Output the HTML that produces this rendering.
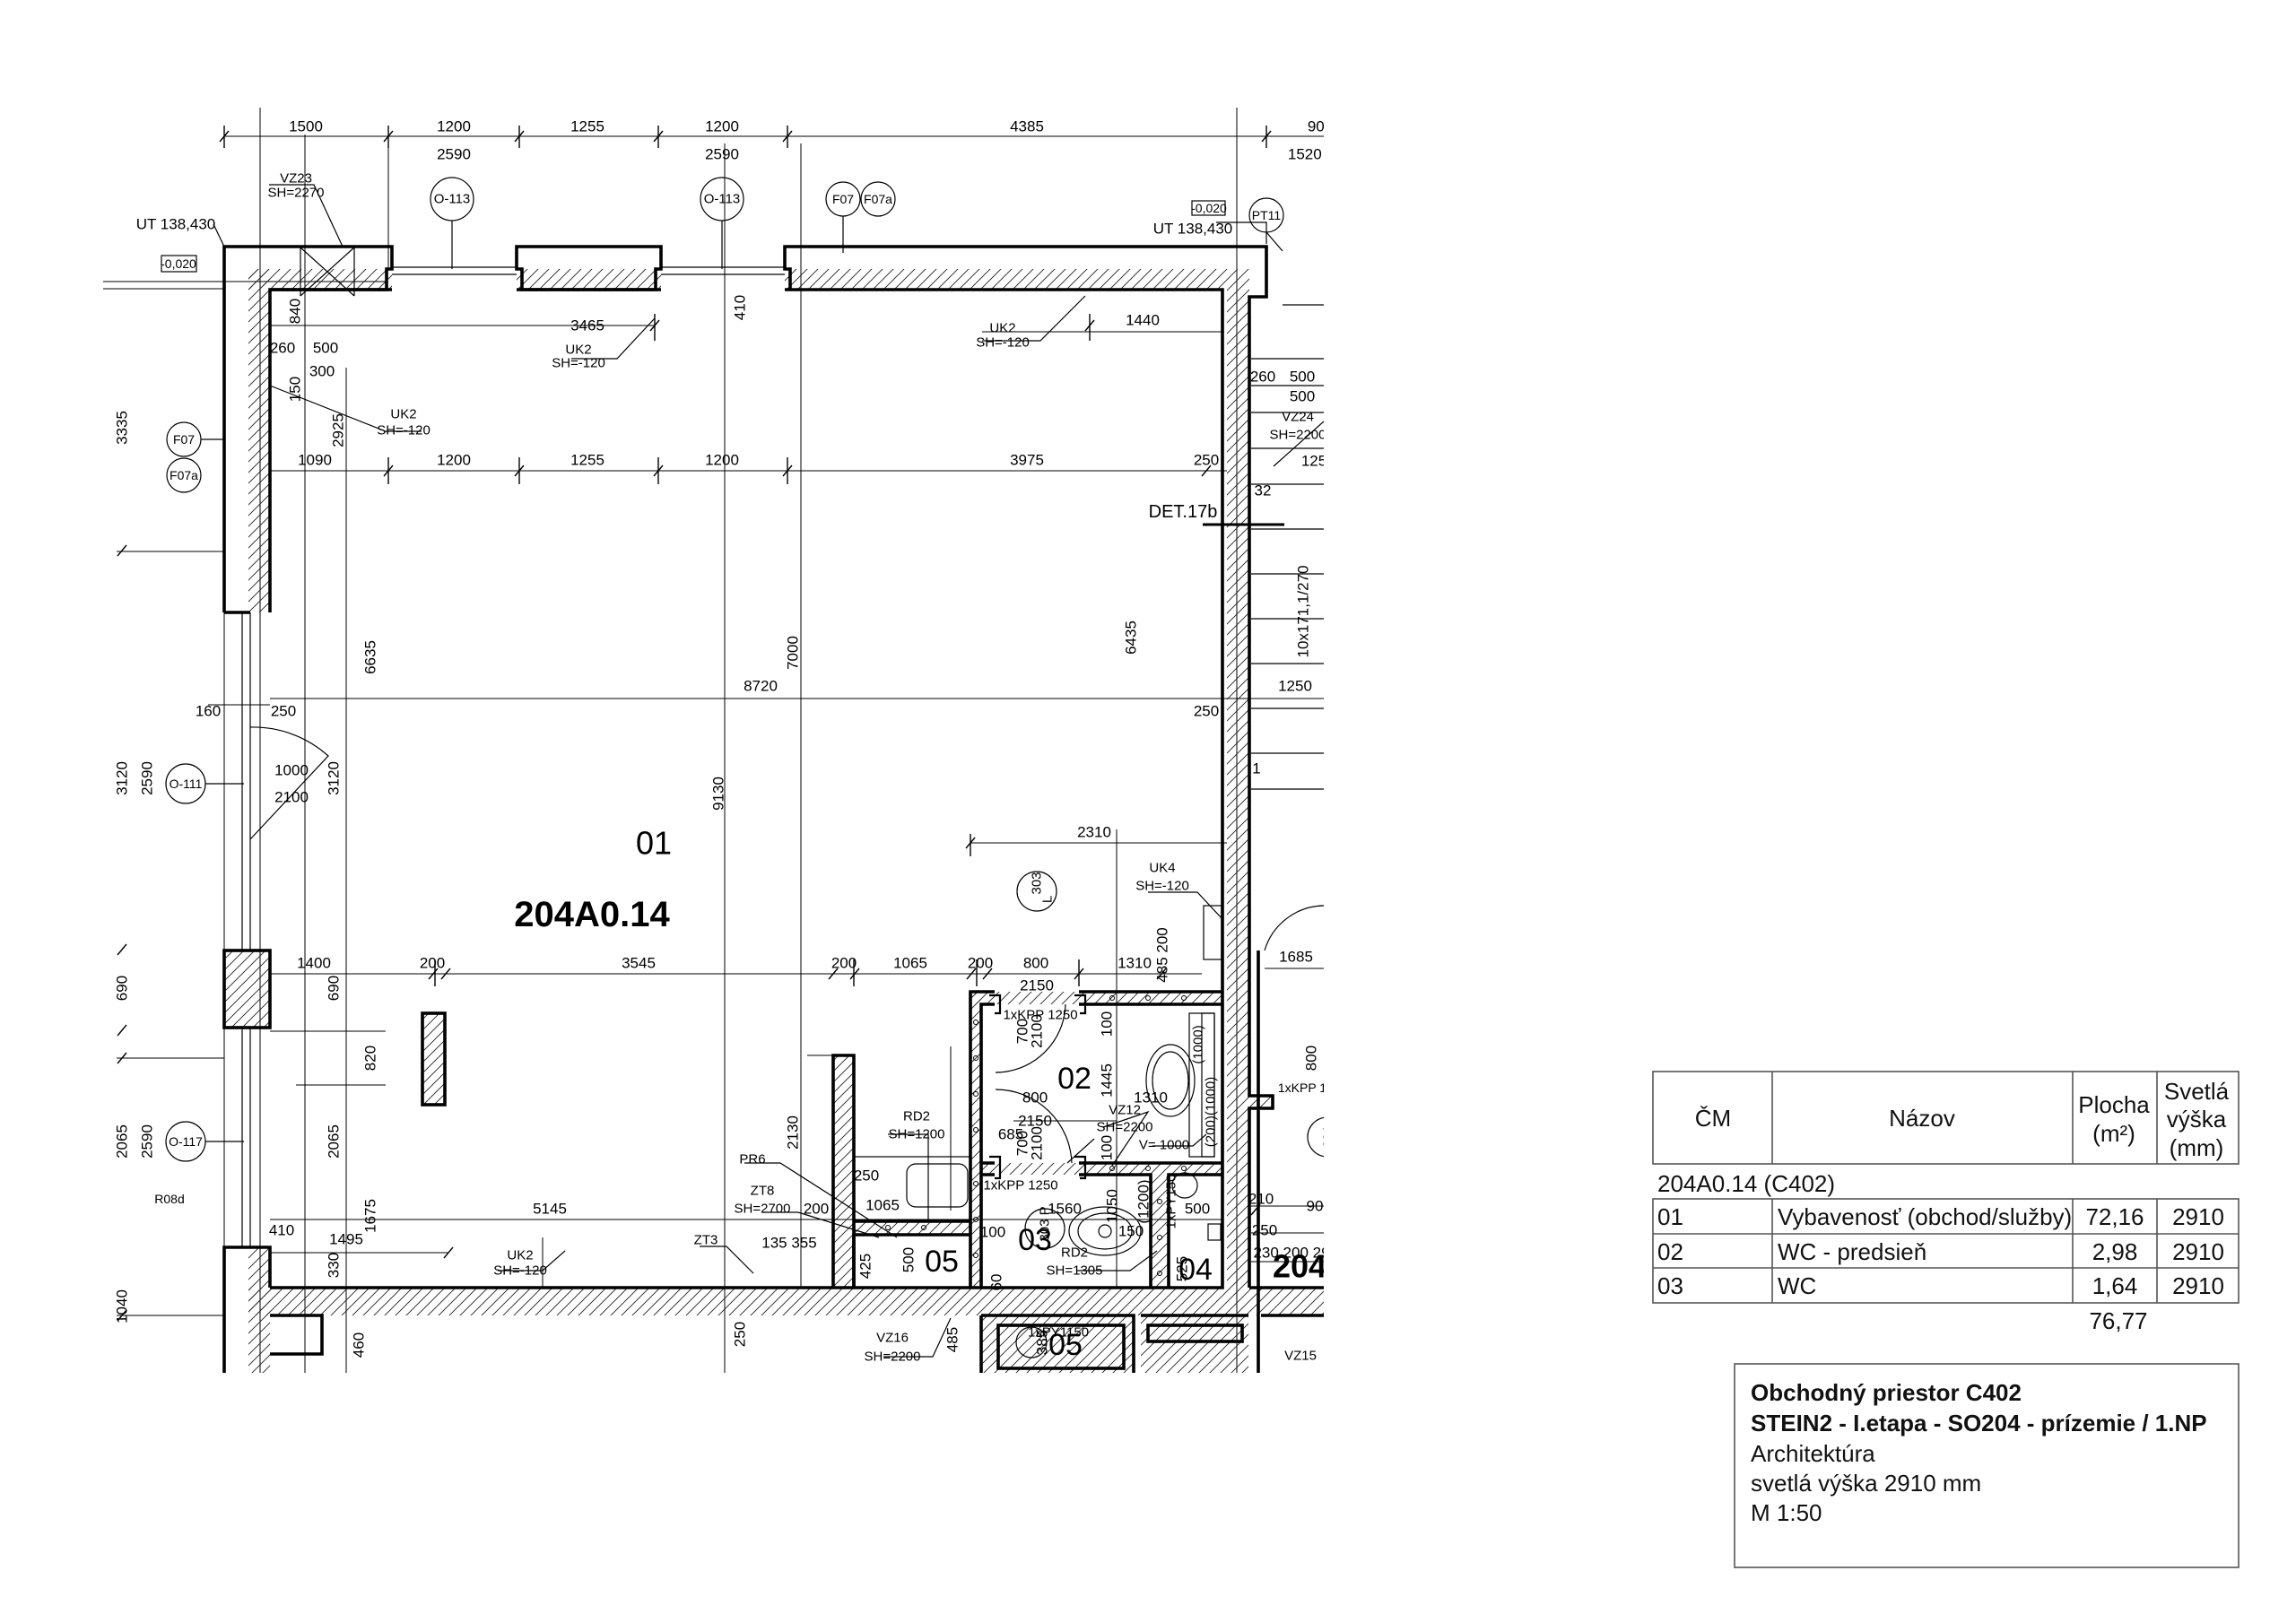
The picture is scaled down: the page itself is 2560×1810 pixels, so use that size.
<!DOCTYPE html>
<html><head><meta charset="utf-8">
<style>
html,body{margin:0;padding:0;background:#fff;}
svg{display:block;}
.d{font-family:"Liberation Sans Narrow","Liberation Sans",sans-serif;font-size:17px;fill:#000;}
.t{font-family:"Liberation Sans Narrow","Liberation Sans",sans-serif;fill:#111;}
</style></head><body>
<svg width="2560" height="1810" viewBox="0 0 2560 1810" xmlns="http://www.w3.org/2000/svg">
<defs>
<pattern id="h" patternUnits="userSpaceOnUse" width="12" height="12"><path d="M0,12 L12,0 M-3,3 L3,-3 M9,15 L15,9" stroke="#222" stroke-width="0.9"/></pattern>
<clipPath id="c"><rect x="0" y="0" width="1476" height="1531"/></clipPath>
</defs>
<g clip-path="url(#c)">
<g stroke="#000" stroke-width="1" fill="none">
<line x1="250" y1="152" x2="1480" y2="152"/>
<line x1="290" y1="120" x2="290" y2="1531"/>
<line x1="386" y1="410" x2="386" y2="1531"/>
<line x1="433" y1="140" x2="433" y2="300"/>
<line x1="808" y1="160" x2="808" y2="1531"/>
<line x1="893" y1="160" x2="893" y2="1436"/>
<line x1="1245" y1="925" x2="1245" y2="1436"/>
<line x1="1379" y1="120" x2="1379" y2="1531"/>
<line x1="1480" y1="120" x2="1480" y2="1531"/>
<line x1="115" y1="314" x2="430" y2="314"/>
<line x1="115" y1="322" x2="250" y2="322"/>
<line x1="301" y1="363" x2="730" y2="363"/>
<line x1="1095" y1="370" x2="1365" y2="370"/>
<line x1="301" y1="525" x2="1368" y2="525"/>
<line x1="301" y1="779" x2="1476" y2="779"/>
<line x1="232" y1="786" x2="301" y2="786"/>
<line x1="1082" y1="940" x2="1368" y2="940"/>
<line x1="301" y1="1086" x2="1340" y2="1086"/>
<line x1="301" y1="1360" x2="1363" y2="1360"/>
<line x1="301" y1="1397" x2="500" y2="1397"/>
<line x1="130" y1="615" x2="250" y2="615"/>
<line x1="130" y1="1180" x2="250" y2="1180"/>
<line x1="130" y1="1467" x2="250" y2="1467"/>
<line x1="1395" y1="1345" x2="1476" y2="1345"/>
<line x1="1395" y1="1375" x2="1476" y2="1375"/>
<line x1="1395" y1="1407" x2="1476" y2="1407"/>
<line x1="301" y1="1150" x2="430" y2="1150"/>
<line x1="330" y1="1210" x2="430" y2="1210"/>
<line x1="900" y1="1177" x2="929" y2="1177"/>
<line x1="250" y1="285" x2="250" y2="1531"/>
<line x1="340" y1="150" x2="340" y2="1531"/>
<line x1="605" y1="1380" x2="605" y2="1436"/>
<line x1="1410" y1="1080" x2="1476" y2="1080"/>
<line x1="1060" y1="1167" x2="1060" y2="1350"/>
<line x1="1130" y1="1250" x2="1245" y2="1250"/>
</g>
<g stroke="#000" stroke-width="1.4">
<path d="M245,158 L255,146 M428,158 L438,146 M574,158 L584,146 M729,158 L739,146 M873,158 L883,146 M1407,158 L1417,146"/>
<path d="M250,140 V165 M433,140 V165 M579,140 V165 M734,140 V165 M878,140 V165 M1412,140 V165"/>
<path d="M428,531 L438,519 M574,531 L584,519 M729,531 L739,519 M873,531 L883,519 M1340,531 L1350,519"/>
<path d="M433,510 V540 M579,510 V540 M734,510 V540 M878,510 V540"/>
<path d="M478,1092 L488,1080 M492,1092 L502,1080 M924,1092 L934,1080 M948,1092 L958,1080 M1078,1092 L1088,1080 M1096,1092 L1106,1080 M1198,1092 L1208,1080"/>
<path d="M1077,946 L1087,934 M1210,369 L1220,357 M725,369 L735,357 M1290,1092 L1300,1080"/>
<path d="M1082,930 V955 M1215,350 V380 M730,350 V380 M485,1070 V1100 M952,1070 V1100 M1089,1070 V1100 M1203,1070 V1100"/>
<path d="M131,620 L141,608 M131,1186 L141,1174 M131,1473 L141,1461 M131,1065 L141,1053 M131,1155 L141,1143 M495,1403 L505,1391 M1395,1355 L1405,1343"/>
</g>
<g fill="url(#h)" stroke="none">
<rect x="277" y="300" width="160" height="23"/>
<rect x="576" y="300" width="161" height="23"/>
<rect x="875" y="300" width="518" height="23"/>
<rect x="277" y="300" width="24" height="383"/>
<rect x="250" y="1060" width="51" height="86"/>
<rect x="277" y="1391" width="24" height="140"/>
<rect x="1368" y="323" width="25" height="1113"/>
<rect x="277" y="1436" width="1200" height="31"/>
<rect x="1082" y="1106" width="281" height="14"/>
<rect x="1082" y="1106" width="12" height="330"/>
<rect x="1094" y="1297" width="269" height="13"/>
<rect x="1283" y="1310" width="20" height="126"/>
<rect x="952" y="1362" width="130" height="15"/>
<rect x="929" y="1177" width="23" height="259"/>
<rect x="471" y="1130" width="25" height="102"/>
<rect x="1393" y="1222" width="26" height="14"/>
<rect x="1094" y="1467" width="170" height="64"/>
<rect x="1272" y="1467" width="120" height="64"/>
</g>
<g fill="none" stroke="#000" stroke-width="1">
<circle cx="1088" cy="1140" r="2.5"/><circle cx="1088" cy="1180" r="2.5"/><circle cx="1088" cy="1220" r="2.5"/><circle cx="1088" cy="1260" r="2.5"/><circle cx="1088" cy="1320" r="2.5"/><circle cx="1088" cy="1360" r="2.5"/><circle cx="1088" cy="1400" r="2.5"/>
<circle cx="1240" cy="1113" r="2.5"/><circle cx="1280" cy="1113" r="2.5"/><circle cx="1320" cy="1113" r="2.5"/><circle cx="1240" cy="1303" r="2.5"/><circle cx="1280" cy="1303" r="2.5"/><circle cx="1320" cy="1303" r="2.5"/>
<circle cx="1293" cy="1340" r="2.5"/><circle cx="1293" cy="1380" r="2.5"/><circle cx="1293" cy="1420" r="2.5"/>
<circle cx="990" cy="1369" r="2.5"/><circle cx="1030" cy="1369" r="2.5"/>
</g>
<g fill="none" stroke="#000" stroke-width="3.6" stroke-linejoin="miter">
<path d="M250,683 V275 H437 V300 H431 V323 H301 V683 M250,683 H279"/>
<path d="M582,323 V300 H576 V275 H737 V300 H731 V323 Z"/>
<path d="M881,323 V300 H875 V275 H1412 V331 H1393 V1222 H1419 V1236 H1393 V1436"/>
<path d="M301,323 H437 M576,323 H737 M875,323 H1363 V1436 H301"/>
<rect x="250" y="1060" width="51" height="86"/>
<path d="M250,1531 V1391 H301 V1436"/>
<rect x="471" y="1130" width="25" height="102"/>
<path d="M929,1436 V1177 H952 V1436"/>
<path d="M952,1436 V1377 H1082 M952,1362 H1082"/>
<path d="M1082,1436 V1106 H1109 M1203,1106 H1363 M1094,1436 V1120 H1109 M1203,1120 H1363"/>
<path d="M1094,1310 H1109 M1203,1310 H1283 V1436 M1094,1297 H1109 M1203,1297 H1363 M1303,1436 V1310 H1363"/>
<path d="M1393,1436 H1476 M1094,1467 V1531 M1094,1467 H1264 V1531 M1272,1467 H1392 M1406,1467 H1476"/>
<rect x="1113" y="1478" width="140" height="48"/>
<rect x="1280" y="1478" width="105" height="18"/>
<path d="M301,1467 H359 V1510 H301 M1403,1060 V1536"/>
</g>
<g fill="none" stroke="#000" stroke-width="2.2">
<path d="M1103,1110 h12 v20 h-6 M1198,1110 h12 v20 h-6 M1103,1290 h12 v24 h-6 M1198,1290 h12 v24 h-6"/>
</g>
<g fill="none" stroke="#000" stroke-width="1.2">
<path d="M437,298 H576 M437,306 H576 M737,298 H875 M737,306 H875"/>
<path d="M270,683 V1060 M279,683 V1060 M270,1146 V1391 M279,1146 V1391"/>
<path d="M279,936 L366,843 A125,125 0 0 0 279,811"/>
<path d="M1110,1196 A78,78 0 0 0 1188,1120"/>
<path d="M1110,1215 A85,85 0 0 1 1195,1297"/>
<path d="M1190,1297 L1220,1270"/>
<path d="M1410,1060 A70,70 0 0 1 1476,1010"/>
<ellipse cx="1305" cy="1205" rx="20" ry="32"/>
<ellipse cx="1305" cy="1205" rx="27" ry="40"/>
<rect x="1326" y="1130" width="28" height="160"/>
<rect x="1340" y="1130" width="14" height="160"/>
<ellipse cx="1232" cy="1373" rx="30" ry="20"/><ellipse cx="1232" cy="1373" rx="40" ry="27"/>
<circle cx="1232" cy="1373" r="7"/>
<rect x="1011" y="1298" width="68" height="48" rx="10"/>
<rect x="952" y="1290" width="130" height="72"/>
<circle cx="1150" cy="1497" r="17"/>
<circle cx="1321" cy="1322" r="14"/>
<rect x="1347" y="1365" width="14" height="18"/>
<path d="M1395,400 H1476 M1395,430 H1476 M1395,460 H1476 M1395,500 H1476 M1395,540 H1476 M1395,590 H1476 M1395,640 H1476 M1395,690 H1476 M1395,740 H1476 M1395,790 H1476 M1395,840 H1476 M1395,880 H1476"/>
<path d="M1430,340 L1476,340 M1420,520 L1476,470"/>
<path d="M1341,585 H1432" stroke-width="3"/>
<path d="M335,276 L395,330 M395,276 L335,330 M335,276 V330 M395,276 V330"/>
<circle cx="504" cy="222" r="24"/><circle cx="805" cy="222" r="24"/>
<circle cx="940" cy="222" r="19"/><circle cx="979" cy="222" r="19"/>
<circle cx="1412" cy="240" r="19"/>
<circle cx="205" cy="490" r="19"/><circle cx="205" cy="530" r="19"/>
<circle cx="207" cy="874" r="22"/><circle cx="207" cy="1273" r="22"/>
<circle cx="1156" cy="994" r="22"/><circle cx="1165" cy="1370" r="22"/>
<circle cx="1480" cy="1268" r="22"/>
<path d="M504,246 V300 M805,246 V300 M940,241 V282 M224,490 H250 M229,874 H272 M229,1273 H272"/>
<path d="M238,250 L250,275 M1356,248 L1412,248 V272 M1412,259 L1430,280"/>
<path d="M300,206 L350,206 L382,275 M1095,380 L1160,380 L1210,330 M637,400 L688,400 L730,355 M470,481 L430,481 L301,430 M555,1417 L605,1417 L630,1395 M985,1513 L1040,1513 L1060,1470 M1280,995 L1335,995 L1363,1025 M1285,1278 L1330,1278 L1345,1265 M1200,1417 L1260,1417 L1290,1395 M1230,1257 L1280,1240 L1240,1300 M990,1265 L1035,1265 L1035,1360 M830,1297 L870,1297 L1000,1380 M850,1352 L890,1352 L980,1380 M780,1390 L810,1390 L840,1420"/>
<rect x="180" y="285" width="39" height="18"/><rect x="1329" y="224" width="37" height="16"/>
<rect x="1342" y="1010" width="20" height="60"/>
</g>
<g class="d" text-anchor="middle" dominant-baseline="central">
<text x="341" y="141">1500</text><text x="506" y="141">1200</text><text x="655" y="141">1255</text><text x="805" y="141">1200</text><text x="1145" y="141">4385</text><text x="1472" y="141">900</text>
<text x="506" y="172">2590</text><text x="805" y="172">2590</text><text x="1460" y="172">1520 (</text>
<text x="196" y="250">UT 138,430</text><text x="199" y="294" font-size="14">-0,020</text>
<text x="330" y="199" font-size="15">VZ23</text><text x="330" y="215" font-size="15">SH=2270</text>
<text x="504" y="222" font-size="15">O-113</text><text x="805" y="222" font-size="15">O-113</text>
<text x="940" y="222" font-size="14">F07</text><text x="979" y="222" font-size="14">F07a</text>
<text x="1348" y="232" font-size="14">-0,020</text><text x="1330" y="255">UT 138,430</text>
<text x="1412" y="240" font-size="14">PT11</text>
<text x="205" y="490" font-size="14">F07</text><text x="205" y="530" font-size="14">F07a</text>
<text x="207" y="874" font-size="14">O-111</text><text x="207" y="1273" font-size="14">O-117</text><text x="189" y="1337" font-size="14">R08d</text>
<text x="655" y="363">3465</text><text x="645" y="390" font-size="15">UK2</text><text x="645" y="405" font-size="15">SH=-120</text>
<text x="1118" y="366" font-size="15">UK2</text><text x="1118" y="382" font-size="15">SH=-120</text>
<text x="450" y="462" font-size="15">UK2</text><text x="450" y="480" font-size="15">SH=-120</text>
<text x="580" y="1400" font-size="15">UK2</text><text x="580" y="1417" font-size="15">SH=-120</text>
<text x="1274" y="357">1440</text><text x="315" y="388">260</text><text x="363" y="388">500</text><text x="359" y="414">300</text>
<text x="351" y="513">1090</text><text x="506" y="513">1200</text><text x="655" y="513">1255</text><text x="805" y="513">1200</text><text x="1145" y="513">3975</text><text x="1345" y="513">250</text>
<text x="848" y="765">8720</text><text x="232" y="793">160</text><text x="316" y="793">250</text><text x="1345" y="793">250</text>
<text x="325" y="859">1000</text><text x="325" y="889">2100</text>
<text x="1220" y="928">2310</text><text x="1296" y="968" font-size="15">UK4</text><text x="1296" y="988" font-size="15">SH=-120</text>
<text x="350" y="1074">1400</text><text x="482" y="1074">200</text><text x="712" y="1074">3545</text><text x="941" y="1074">200</text><text x="1015" y="1074">1065</text><text x="1093" y="1074">200</text><text x="1155" y="1074">800</text><text x="1265" y="1074">1310</text><text x="1445" y="1067">1685</text>
<text x="1156" y="1099">2150</text>
<text x="613" y="1348">5145</text><text x="314" y="1372">410</text><text x="386" y="1382">1495</text>
<text x="839" y="1293" font-size="15">PR6</text><text x="850" y="1328" font-size="15">ZT8</text><text x="850" y="1348" font-size="15">SH=2700</text><text x="910" y="1348">200</text>
<text x="787" y="1383" font-size="15">ZT3</text><text x="880" y="1386">135 355</text>
<text x="1022" y="1245" font-size="15">RD2</text><text x="1022" y="1265" font-size="15">SH=1200</text>
<text x="966" y="1311">250</text><text x="984" y="1344">1065</text>
<text x="1160" y="1132" font-size="15">1xKPP 1250</text><text x="1154" y="1224">800</text><text x="1283" y="1224">1310</text>
<text x="1154" y="1250">2150</text><text x="1127" y="1265">685</text><text x="1254" y="1238" font-size="15">VZ12</text><text x="1254" y="1257" font-size="15">SH=2200</text>
<text x="1298" y="1277" font-size="15">V= 1000</text><text x="1138" y="1322" font-size="15">1xKPP 1250</text>
<text x="1187" y="1348">1560</text><text x="1107" y="1374">100</text><text x="1261" y="1373">150</text><text x="1335" y="1348">500</text>
<text x="1198" y="1397" font-size="15">RD2</text><text x="1198" y="1417" font-size="15">SH=1305</text>
<text x="995" y="1492" font-size="15">VZ16</text><text x="995" y="1513" font-size="15">SH=2200</text>
<text x="1319" y="571" font-size="20">DET.17b</text><text x="1408" y="547">32</text><text x="1401" y="857">1</text>
<text x="1444" y="765">1250</text><text x="1408" y="420">260</text><text x="1452" y="420">500</text><text x="1452" y="442">500</text>
<text x="1447" y="465" font-size="15">VZ24</text><text x="1447" y="485" font-size="15">SH=2200</text><text x="1465" y="514">125</text>
<text x="1452" y="1213" font-size="14">1xKPP 1</text><text x="1406" y="1337">210</text><text x="1410" y="1372">250</text><text x="1440" y="1397">230 200 29</text><text x="1466" y="1345">90</text>
<text x="1450" y="1512" font-size="15">VZ15</text><text x="1180" y="1486" font-size="15">1xPY1150</text>
</g>
<g class="d" text-anchor="middle" dominant-baseline="central">
<text transform="translate(136,477) rotate(-90)">3335</text>
<text transform="translate(136,868) rotate(-90)">3120</text>
<text transform="translate(164,868) rotate(-90)">2590</text>
<text transform="translate(136,1102) rotate(-90)">690</text>
<text transform="translate(136,1273) rotate(-90)">2065</text>
<text transform="translate(164,1273) rotate(-90)">2590</text>
<text transform="translate(136,1457) rotate(-90)">1040</text>
<text transform="translate(329,347) rotate(-90)">840</text>
<text transform="translate(329,434) rotate(-90)">150</text>
<text transform="translate(377,480) rotate(-90)">2925</text>
<text transform="translate(825,343) rotate(-90)">410</text>
<text transform="translate(413,733) rotate(-90)">6635</text>
<text transform="translate(884,728) rotate(-90)">7000</text>
<text transform="translate(1261,711) rotate(-90)">6435</text>
<text transform="translate(801,885) rotate(-90)">9130</text>
<text transform="translate(372,868) rotate(-90)">3120</text>
<text transform="translate(372,1102) rotate(-90)">690</text>
<text transform="translate(413,1180) rotate(-90)">820</text>
<text transform="translate(372,1273) rotate(-90)">2065</text>
<text transform="translate(413,1356) rotate(-90)">1675</text>
<text transform="translate(372,1411) rotate(-90)">330</text>
<text transform="translate(884,1263) rotate(-90)">2130</text>
<text transform="translate(1453,682) rotate(-90)">10x171,1/270</text>
<text transform="translate(1296,1065) rotate(-90)">485 200</text>
<text transform="translate(1156,985) rotate(-90)" font-size="15">303</text>
<text transform="translate(1168,1003) rotate(-90)" font-size="15">L</text>
<text transform="translate(1165,1365) rotate(-90)" font-size="15">303 P</text>
<text transform="translate(1234,1142) rotate(-90)">100</text>
<text transform="translate(1234,1205) rotate(-90)">1445</text>
<text transform="translate(1234,1280) rotate(-90)">100</text>
<text transform="translate(1140,1150) rotate(-90)">700</text>
<text transform="translate(1156,1150) rotate(-90)">2100</text>
<text transform="translate(1140,1275) rotate(-90)">700</text>
<text transform="translate(1156,1275) rotate(-90)">2100</text>
<text transform="translate(1240,1345) rotate(-90)">1050</text>
<text transform="translate(1275,1340) rotate(-90)">(1200)</text>
<text transform="translate(1336,1165) rotate(-90)" font-size="15">(1000)</text>
<text transform="translate(1350,1240) rotate(-90)" font-size="15">(200)(1000)</text>
<text transform="translate(1306,1340) rotate(-90)" font-size="15">1xPY150</text>
<text transform="translate(1318,1415) rotate(-90)">525</text>
<text transform="translate(1111,1430) rotate(-90)">60</text>
<text transform="translate(1013,1405) rotate(-90)">500</text>
<text transform="translate(965,1412) rotate(-90)">425</text>
<text transform="translate(825,1488) rotate(-90)">250</text>
<text transform="translate(1062,1494) rotate(-90)">485</text>
<text transform="translate(1162,1497) rotate(-90)">385</text>
<text transform="translate(400,1500) rotate(-90)">460</text>
<text transform="translate(1462,1180) rotate(-90)">800</text>
<text transform="translate(1480,1268) rotate(-90)" font-size="14">204</text>
</g>
<g class="d" text-anchor="middle" dominant-baseline="central">
<text x="729" y="940" font-size="36">01</text>
<text x="660" y="1020" font-size="40" font-weight="bold">204A0.14</text>
<text x="1198" y="1203" font-size="34">02</text>
<text x="1154" y="1383" font-size="34">03</text>
<text x="1050" y="1407" font-size="34">05</text>
<text x="1333" y="1416" font-size="34">04</text>
<text x="1188" y="1500" font-size="34">05</text>
<text x="1462" y="1412" font-size="36" font-weight="bold">204A</text>
</g>
</g>
<g fill="none" stroke="#555" stroke-width="1.6">
<rect x="1843" y="1195" width="653" height="103"/>
<path d="M1976,1195 V1298 M2311,1195 V1298 M2405,1195 V1298"/>
<rect x="1843" y="1337" width="653" height="116"/>
<path d="M1843,1376 H2496 M1843,1414 H2496 M1976,1337 V1453 M2311,1337 V1453 M2405,1337 V1453"/>
<rect x="1934" y="1521" width="562" height="227"/>
</g>
<g class="t" font-size="26" dominant-baseline="central">
<text x="1910" y="1247" text-anchor="middle">ČM</text>
<text x="2143" y="1247" text-anchor="middle">Názov</text>
<text x="2357" y="1232" text-anchor="middle">Plocha</text>
<text x="2357" y="1264" text-anchor="middle">(m²)</text>
<text x="2449" y="1217" text-anchor="middle">Svetlá</text>
<text x="2449" y="1248" text-anchor="middle">výška</text>
<text x="2449" y="1280" text-anchor="middle">(mm)</text>
<text x="1848" y="1320">204A0.14 (C402)</text>
<text x="1848" y="1357">01</text><text x="1982" y="1357">Vybavenosť (obchod/služby)</text><text x="2358" y="1357" text-anchor="middle">72,16</text><text x="2451" y="1357" text-anchor="middle">2910</text>
<text x="1848" y="1396">02</text><text x="1982" y="1396">WC - predsieň</text><text x="2358" y="1396" text-anchor="middle">2,98</text><text x="2451" y="1396" text-anchor="middle">2910</text>
<text x="1848" y="1434">03</text><text x="1982" y="1434">WC</text><text x="2358" y="1434" text-anchor="middle">1,64</text><text x="2451" y="1434" text-anchor="middle">2910</text>
<text x="2362" y="1473" text-anchor="middle">76,77</text>
<text x="1952" y="1553" font-weight="bold">Obchodný priestor C402</text>
<text x="1952" y="1587" font-weight="bold">STEIN2 - I.etapa - SO204 - prízemie / 1.NP</text>
<text x="1952" y="1621">Architektúra</text>
<text x="1952" y="1654">svetlá výška 2910 mm</text>
<text x="1952" y="1687">M 1:50</text>
</g>
</svg>
</body></html>
